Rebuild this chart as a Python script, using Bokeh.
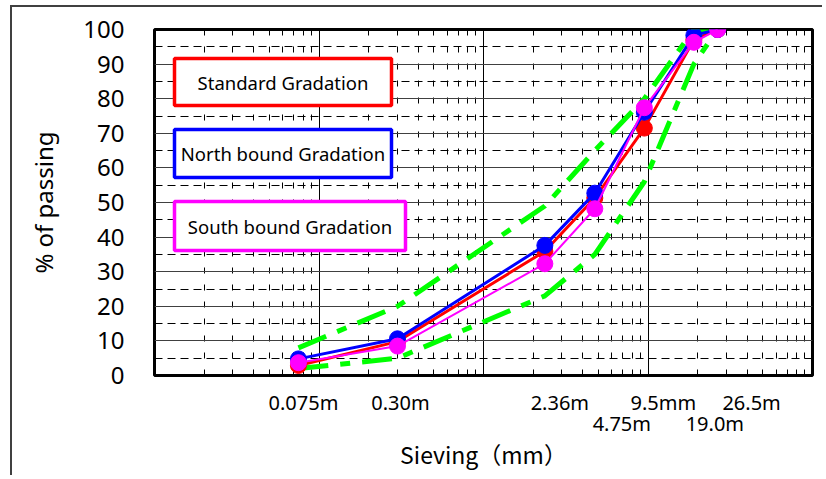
from bokeh.plotting import figure
from bokeh.models import (LogTicker, SingleIntervalTicker, FixedTicker, Label,
                          BoxAnnotation, ColumnDataSource)
from bokeh.embed import file_html
from bokeh.resources import INLINE

# ---------------- data ----------------
sieve = [0.075, 0.30, 2.36, 4.75, 9.5, 19.0, 26.5]
standard = [2.9, 9.8, 35.9, 51.3, 71.5, 97.0, 100.0]
north = [4.8, 10.6, 37.6, 52.7, 76.1, 98.3, 100.0]
south = [3.7, 8.5, 32.3, 48.2, 77.4, 96.3, 100.0]
upper = [8.0, 20.0, 49.0, 65.0, 80.0, 100.0, 100.0]
lower = [2.0, 5.0, 23.0, 35.0, 56.0, 90.0, 100.0]

tick_texts = ["0.075m", "0.30m", "2.36m", "4.75m", "9.5mm", "19.0m", "26.5m"]
tick_rows = [0, 0, 0, 1, 0, 1, 0]

legend_names = ["Standard Gradation", "North bound Gradation", "South bound Gradation"]
legend_colors = ["#ff0000", "#0000ff", "#ff00ff"]

# ---------------- styling / layout ----------------
FONT = "Noto Sans"
PX_PER_DECADE = 164.5
tick_x_offsets = [5, 3, 15, 27, 19, 21, 34]   # label shift in px from the sieve size
legend_boxes = [  # left, right, bottom, top (in axis units)
    (0.01323, 0.2759, 78.0, 91.6),
    (0.01323, 0.2759, 57.2, 71.1),
    (0.01323, 0.3356, 36.1, 50.3),
]

p = figure(width=812, height=470, x_axis_type="log",
           x_range=(0.01, 100), y_range=(0, 100),
           output_backend="svg", toolbar_location=None,
           min_border_left=142, min_border_right=12,
           min_border_top=22, min_border_bottom=102,
           styles={"border-left": "2px solid #404040",
                   "border-top": "2px solid #404040",
                   "margin-left": "10px", "margin-top": "5px"})

p.background_fill_color = "white"
p.border_fill_color = "white"
p.outline_line_color = "black"
p.outline_line_width = 3

# grids
p.xgrid.ticker = LogTicker(num_minor_ticks=10)
p.xgrid.grid_line_color = "black"
p.xgrid.grid_line_width = 1
p.xgrid.minor_grid_line_color = "black"
p.xgrid.minor_grid_line_dash = "6 11"
p.xgrid.minor_grid_line_width = 1

p.yaxis.ticker = SingleIntervalTicker(interval=10, num_minor_ticks=2)
p.ygrid.grid_line_color = "#404040"
p.ygrid.grid_line_width = 1
p.ygrid.minor_grid_line_color = "black"
p.ygrid.minor_grid_line_dash = "8 5"
p.ygrid.minor_grid_line_width = 1

# y axis
yax = p.yaxis[0]
yax.axis_line_color = None
yax.major_tick_in = 0
yax.major_tick_out = 0
yax.minor_tick_in = 0
yax.minor_tick_out = 0
yax.major_label_standoff = 30
yax.major_label_text_font = FONT
yax.major_label_text_font_size = "24px"
yax.major_label_text_color = "black"
yax.axis_label = "% of passing"
yax.axis_label_text_font = FONT
yax.axis_label_text_font_size = "24px"
yax.axis_label_text_font_style = "normal"
yax.axis_label_text_color = "black"
yax.axis_label_standoff = 20

# x axis: labels at shifted positions, second row via a leading newline
tick_pos = [s * 10 ** (off / PX_PER_DECADE) for s, off in zip(sieve, tick_x_offsets)]
overrides = {}
for pos, txt, row in zip(tick_pos, tick_texts, tick_rows):
    overrides[pos] = ("\n" + txt) if row == 1 else txt

xax = p.xaxis[0]
xax.ticker = FixedTicker(ticks=tick_pos, minor_ticks=[])
xax.major_label_overrides = overrides
xax.axis_line_color = None
xax.major_tick_in = 0
xax.major_tick_out = 0
xax.minor_tick_in = 0
xax.minor_tick_out = 0
xax.major_label_standoff = 13
xax.major_label_text_font = FONT
xax.major_label_text_font_size = "20px"
xax.major_label_text_color = "black"
xax.major_label_text_line_height = 0.81
xax.axis_label = "Sieving（mm）"
xax.axis_label_text_font = "Noto Sans CJK JP"
xax.axis_label_text_font_size = "23px"
xax.axis_label_text_font_style = "normal"
xax.axis_label_text_color = "black"
xax.axis_label_standoff = -3

# spec bounds (green dashed)
for ys in (upper, lower):
    p.line(sieve, ys, line_color="#00ff00", line_width=5, line_dash="30 12 10 12")

# gradation series
series = [(standard, legend_colors[0], 3), (north, legend_colors[1], 3), (south, legend_colors[2], 2)]
for ys, col, lw in series:
    src = ColumnDataSource(dict(x=sieve, y=ys))
    p.line("x", "y", source=src, line_color=col, line_width=lw)
    p.scatter("x", "y", source=src, size=16, fill_color=col, line_color=col)

# legend boxes
for name, col, (l, r, b, t) in zip(legend_names, legend_colors, legend_boxes):
    p.add_layout(BoxAnnotation(left=l, right=r, bottom=b, top=t,
                               fill_color="white", fill_alpha=1.0,
                               line_color=col, line_width=3.5, line_alpha=1.0))
    cx = (l * r) ** 0.5
    cy = (b + t) / 2
    p.add_layout(Label(x=cx, y=cy, text=name, text_align="center", text_baseline="middle",
                       text_font=FONT, text_font_size="18.5px", text_color="black"))

open("out.html", "w").write(file_html(p, INLINE))
